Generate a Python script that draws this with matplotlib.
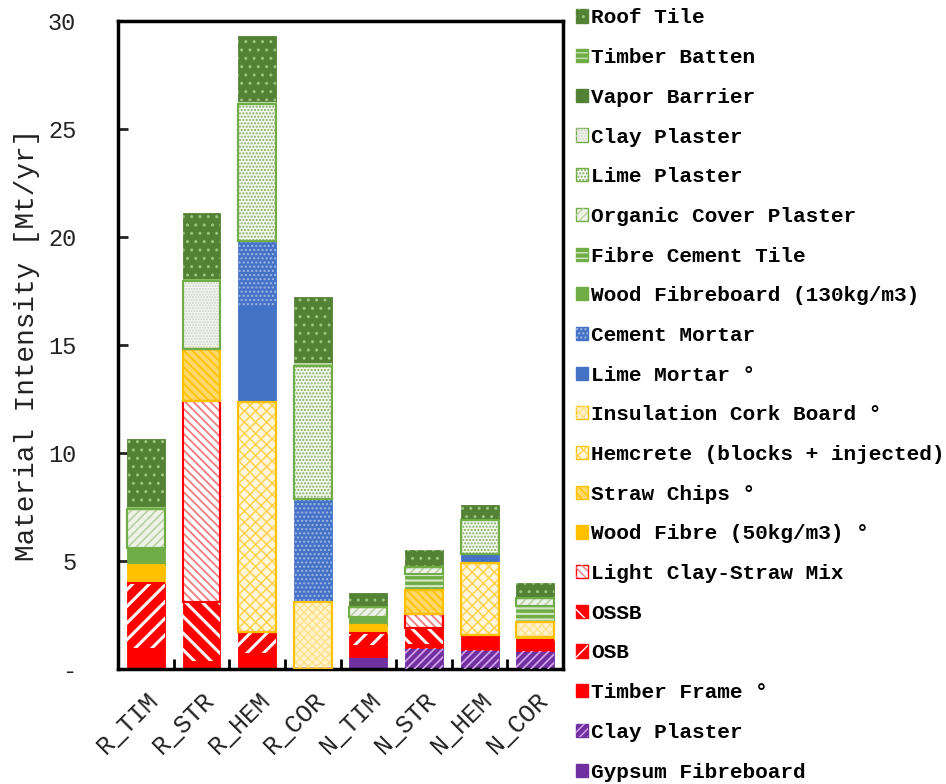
import matplotlib
matplotlib.use("Agg")
import matplotlib.pyplot as plt
from matplotlib.patches import Rectangle
from matplotlib.legend_handler import HandlerTuple
import numpy as np

plt.rcParams['font.family'] = ['Liberation Mono', 'DejaVu Sans']

categories = ["R_TIM", "R_STR", "R_HEM", "R_COR", "N_TIM", "N_STR", "N_HEM", "N_COR"]

# Material intensity per building variant [Mt/yr], stacked bottom -> top
gypsum_fibreboard = [0, 0, 0, 0, 0.56, 0, 0, 0]
clay_plaster_int = [0, 0, 0, 0, 0, 0.97, 0.88, 0.83]
timber_frame = [0.97, 0.37, 0.74, 0, 0.55, 0.19, 0.69, 0.51]
osb = [3.00, 0, 0.97, 0, 0.56, 0, 0, 0]
ossb = [0, 2.73, 0, 0, 0, 0.74, 0, 0]
light_clay_straw = [0, 9.31, 0, 0, 0, 0.65, 0, 0]
wood_fibre_50 = [0.83, 0, 0, 0, 0.37, 0, 0, 0.14]
straw_chips = [0, 2.40, 0, 0, 0, 1.11, 0, 0]
hemcrete = [0, 0, 10.65, 0, 0, 0, 3.34, 0]
cork_board = [0, 0, 0, 3.10, 0, 0, 0, 0.70]
lime_mortar = [0, 0, 4.40, 0, 0, 0, 0.41, 0]
cement_mortar = [0, 0, 3.05, 4.77, 0, 0, 0, 0]
wood_fibreboard_130 = [0.79, 0, 0, 0, 0.37, 0, 0, 0]
fibre_cement_tile = [0, 0, 0, 0, 0, 0.74, 0, 0.74]
organic_cover_plaster = [1.80, 0, 0, 0, 0.46, 0.32, 0, 0.37]
lime_plaster = [0, 0, 6.35, 6.16, 0, 0, 1.58, 0]
clay_plaster_ext = [0, 3.15, 0, 0, 0, 0, 0, 0]
vapor_barrier = [0, 0, 0, 0, 0, 0, 0, 0]
timber_batten = [0.15, 0.15, 0.14, 0.14, 0, 0, 0, 0]
roof_tile = [3.10, 3.00, 3.00, 3.05, 0.63, 0.79, 0.69, 0.69]

y_ticks = [0, 5, 10, 15, 20, 25, 30]
y_tick_labels = ["-", "5", "10", "15", "20", "25", "30"]

DKGREEN = "#548235"
GREEN = "#70AD47"
BLUE = "#4472C4"
YELLOW = "#FFC000"
RED = "#FF0000"
PURPLE = "#7030A0"

# (label, values, face, edge, hatch, hatch colour, hatch width)
layers = [
    ("Gypsum Fibreboard", gypsum_fibreboard, PURPLE, PURPLE, None, None, 1),
    ("Clay Plaster", clay_plaster_int, PURPLE, PURPLE, "////", "#D7A6F2", 1.2),
    ("Timber Frame °", timber_frame, RED, RED, None, None, 1),
    ("OSB", osb, RED, RED, "//", "white", 2.2),
    ("OSSB", ossb, RED, RED, "\\\\", "white", 2.2),
    ("Light Clay-Straw Mix", light_clay_straw, "white", RED, "\\\\\\\\", "#F07C7C", 1.3),
    ("Wood Fibre (50kg/m3) °", wood_fibre_50, YELLOW, YELLOW, None, None, 1),
    ("Straw Chips °", straw_chips, "#FFD966", YELLOW, "\\\\\\\\", "#FFC000", 1.2),
    ("Hemcrete (blocks + injected)", hemcrete, "#FFF6DC", YELLOW, "xxx", "#FFD24D", 1.1),
    ("Insulation Cork Board °", cork_board, "#FFF2CC", YELLOW, "xxxx", "#FFE08A", 1.0),
    ("Lime Mortar °", lime_mortar, BLUE, BLUE, None, None, 1),
    ("Cement Mortar", cement_mortar, BLUE, BLUE, "....", "#9DB8E8", 1),
    ("Wood Fibreboard (130kg/m3)", wood_fibreboard_130, GREEN, GREEN, None, None, 1),
    ("Fibre Cement Tile", fibre_cement_tile, GREEN, GREEN, "---", "#D5E8C8", 1.5),
    ("Organic Cover Plaster", organic_cover_plaster, "#EEF3E8", GREEN, "////", "#B9CFA6", 1.2),
    ("Lime Plaster", lime_plaster, "#F4F7F0", GREEN, ".....", "#7FAF5F", 1),
    ("Clay Plaster", clay_plaster_ext, "#F6F7F3", GREEN, "......", "#C9D3C0", 1),
    ("Vapor Barrier", vapor_barrier, DKGREEN, DKGREEN, None, None, 1),
    ("Timber Batten", timber_batten, GREEN, GREEN, "---", "#C5E0B4", 1.2),
    ("Roof Tile", roof_tile, DKGREEN, DKGREEN, "..", "#9CC47F", 1),
]

fig = plt.figure(figsize=(9.46, 7.84), dpi=100)
ax = fig.add_axes([0.1247, 0.1467, 0.4705, 0.8265])

x = np.arange(len(categories))
width = 0.68
bottom = np.zeros(len(categories))
handles = []
for label, vals, face, edge, hatch, hcol, hlw in layers:
    vals = np.asarray(vals, dtype=float)
    outlined = face != edge
    ax.bar(x, vals, width, bottom=bottom, color=face, edgecolor=edge,
           linewidth=1.5 if outlined else 0.6, zorder=2)
    hface = Rectangle((0, 0), 1, 1, facecolor=face, edgecolor=edge, linewidth=1.0)
    if hatch:
        plt.rcParams['hatch.linewidth'] = hlw
        ax.bar(x, vals, width, bottom=bottom, fill=False, hatch=hatch,
               edgecolor=hcol, linewidth=0, zorder=3)
        if outlined:
            # outline drawn above the hatch so borders stay crisp
            ax.bar(x, vals, width, bottom=bottom, fill=False,
                   edgecolor=edge, linewidth=1.5, zorder=4)
        hhat = Rectangle((0, 0), 1, 1, fill=False, hatch=hatch, edgecolor=hcol, linewidth=0)
        hand = (hface, hhat)
    else:
        hand = hface
    handles.append((hand, label))
    bottom += vals

ax.set_xlim(-0.5, len(categories) - 0.5)
ax.set_ylim(0, 30)
ax.set_yticks(y_ticks)
ax.set_yticklabels(y_tick_labels)
ax.tick_params(axis='y', direction='in', length=7, width=2, pad=30,
               labelsize=17, colors='#222222')
ax.set_xticks(x)
ax.set_xticklabels(categories, rotation=45, ha='right', rotation_mode='anchor')
ax.tick_params(axis='x', which='major', length=0, pad=14, labelsize=18,
               colors='#222222')
ax.set_xticks(np.arange(0.5, len(categories) - 0.5, 1.0), minor=True)
ax.tick_params(axis='x', which='minor', direction='in', length=7, width=2)
ax.set_ylabel("Material Intensity [Mt/yr]", fontsize=20, color='#222222', labelpad=6)
for s in ax.spines.values():
    s.set_linewidth(2.5)
    s.set_color('black')

h_list = [h for h, _ in handles][::-1]
l_list = [l for _, l in handles][::-1]
fig.legend(h_list, l_list, loc='upper left', bbox_to_anchor=(0.600, 1.0),
           frameon=False, prop={'weight': 'bold', 'size': 15.2},
           handlelength=0.58, handleheight=0.58, handletextpad=0.12,
           labelspacing=0.98, borderaxespad=0,
           handler_map={tuple: HandlerTuple(ndivide=1)})

fig.savefig("out.png", dpi=100)
